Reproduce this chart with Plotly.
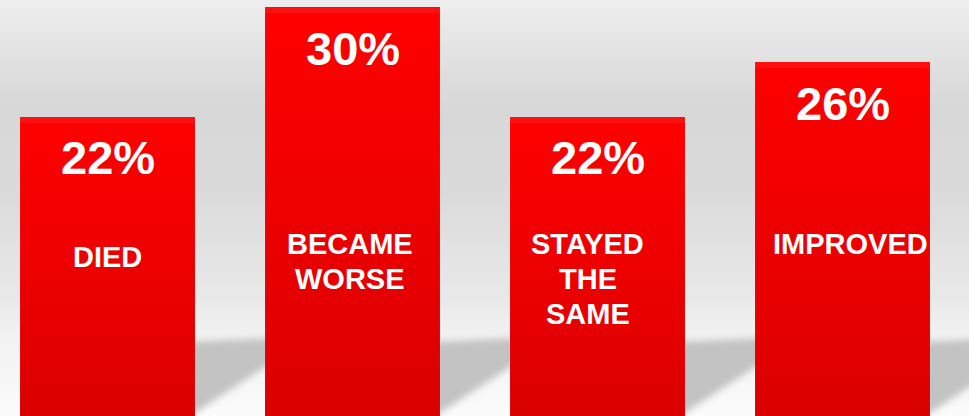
import base64
import plotly.graph_objects as go

# ---- data ----
categories = ["DIED", "BECAME\nWORSE", "STAYED\nTHE\nSAME", "IMPROVED"]
values = [22, 30, 22, 26]
value_labels = ["22%", "30%", "22%", "26%"]

# ---- layout constants ----
W, H = 969, 416
BAR_HALF = 0.357
X_RANGE = [-0.4388, 3.5163]
Y_RANGE = [0.25, 30.51]
FONT = "Liberation Sans, Arial, sans-serif"

# background (gradient + floor shadows) as an inline SVG image
gaps = [(195, 265), (440, 510), (685, 755), (930, 1000)]
polys = []
for L, R in gaps:
    slope = 46.0 / 70.0
    yl = 413 + slope * 10
    yr = 367 - slope * 10
    polys.append(
        f"<polygon points='{L-10},342 {R+10},338 {R+10},{yr:.1f} {L-10},{yl:.1f}'/>"
    )
svg = (
    f"<svg xmlns='http://www.w3.org/2000/svg' width='{W}' height='{H}' viewBox='0 0 {W} {H}'>"
    "<defs><linearGradient id='g' x1='0' y1='0' x2='0' y2='1'>"
    "<stop offset='0' stop-color='#eeeeee'/>"
    "<stop offset='0.25' stop-color='#d8d8d8'/>"
    "<stop offset='0.45' stop-color='#dadada'/>"
    "<stop offset='0.72' stop-color='#e9e9e9'/>"
    "<stop offset='0.8' stop-color='#f1f1f1'/>"
    "<stop offset='1' stop-color='#fbfbfb'/>"
    "</linearGradient>"
    "<filter id='b' x='-30%' y='-30%' width='160%' height='160%'>"
    "<feGaussianBlur stdDeviation='3.5'/></filter></defs>"
    f"<rect width='{W}' height='{H}' fill='url(#g)'/>"
    "<g fill='#c3c3c3' filter='url(#b)'>" + "".join(polys) + "</g></svg>"
)
bg_uri = "data:image/svg+xml;base64," + base64.b64encode(svg.encode()).decode()

fig = go.Figure()

for i, v in enumerate(values):
    strip = 0.45 / v
    fig.add_trace(
        go.Scatter(
            x=[i - BAR_HALF, i - BAR_HALF, i + BAR_HALF, i + BAR_HALF, i - BAR_HALF],
            y=[0, v, v, 0, 0],
            mode="lines",
            line=dict(width=0, color="rgba(0,0,0,0)"),
            fill="toself",
            fillgradient=dict(
                type="vertical",
                colorscale=[
                    [0, "#da0000"],
                    [1 - strip - 0.001, "#ff0000"],
                    [1 - strip, "#ff1010"],
                    [1, "#ff1010"],
                ],
            ),
            hoverinfo="skip",
            showlegend=False,
        )
    )

annotations = []
# percentage labels near the top of each bar
for i, (v, t) in enumerate(zip(values, value_labels)):
    annotations.append(
        dict(
            x=i, y=v, xref="x", yref="y", text=f"<b>{t}</b>", showarrow=False,
            xanchor="center", yanchor="middle", yshift=-41,
            font=dict(family=FONT, size=47, color="white"),
        )
    )

# category labels (one annotation per line)
label_tops = [256.7, 244, 243.5, 243.5]   # pixel y of first line's centre
label_xshift = [0, -3, -10, 8]
LINE = 35
for i, cat in enumerate(categories):
    for k, line in enumerate(cat.split("\n")):
        py = label_tops[i] + k * LINE
        annotations.append(
            dict(
                x=i, y=1 - py / H, xref="x", yref="paper", text=f"<b>{line}</b>",
                showarrow=False, xanchor="center", yanchor="middle",
                xshift=label_xshift[i],
                font=dict(family=FONT, size=29, color="white"),
            )
        )

fig.update_layout(
    width=W, height=H,
    margin=dict(l=0, r=0, t=0, b=0),
    paper_bgcolor="white",
    plot_bgcolor="rgba(0,0,0,0)",
    xaxis=dict(range=X_RANGE, visible=False, fixedrange=True),
    yaxis=dict(range=Y_RANGE, visible=False, fixedrange=True),
    images=[dict(source=bg_uri, xref="paper", yref="paper", x=0, y=1,
                 sizex=1, sizey=1, sizing="stretch", layer="below",
                 xanchor="left", yanchor="top")],
    annotations=annotations,
    showlegend=False,
)

fig.write_html(
    "out.html",
    config={"displayModeBar": False},
    post_script="document.body.style.margin='0';document.body.style.padding='0';"
                "document.body.style.overflow='hidden';",
)
